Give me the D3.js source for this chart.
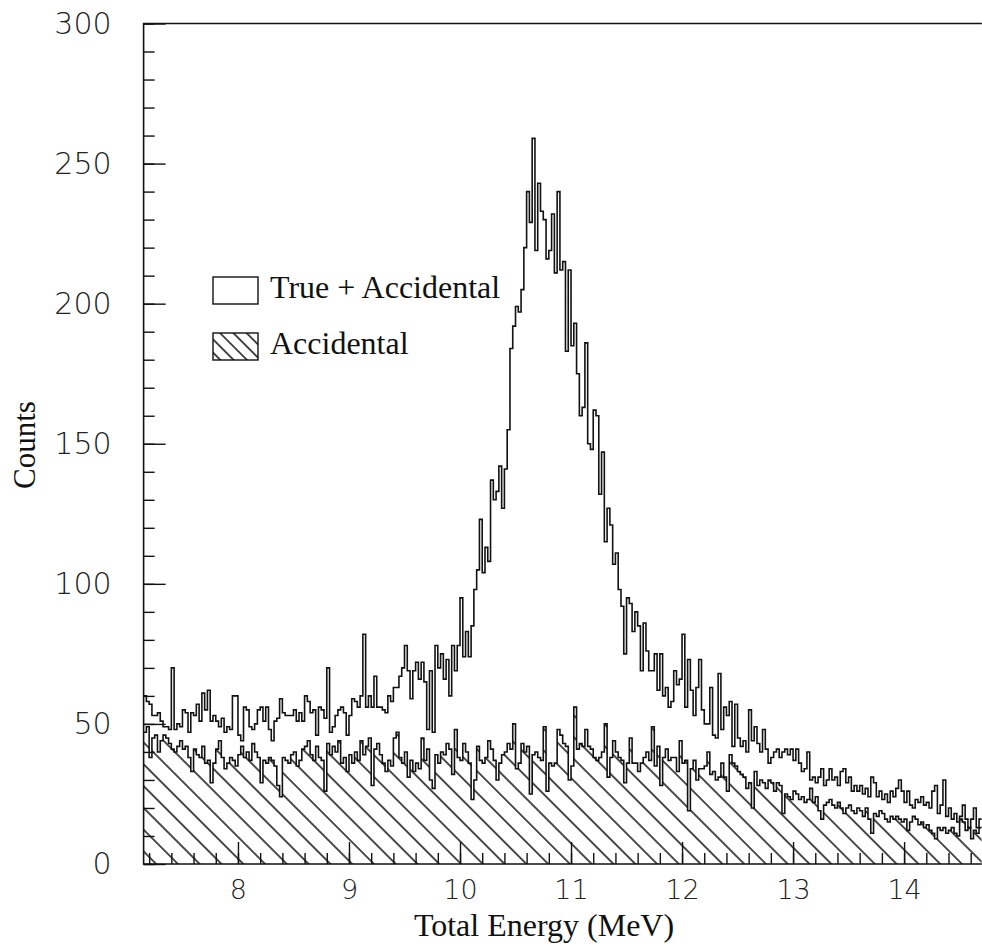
<!DOCTYPE html>
<html>
<head>
<meta charset="utf-8">
<script src="https://cdn.jsdelivr.net/npm/d3@7"></script>
<style>
  body { margin: 0; background: #fff; }
  .tick text { font-family: "DejaVu Sans", sans-serif; font-weight: 200; fill: #222; }
  .serif { font-family: "Liberation Serif", "Times New Roman", serif; fill: #111; }
</style>
</head>
<body>
<svg id="chart" width="982" height="944"></svg>
<script>
// histogram binning (MeV)
const binStart = 7.15;
const binWidth = 0.025;

const energyTicks = [8, 9, 10, 11, 12, 13, 14];
const countTicks = [0, 50, 100, 150, 200, 250, 300];

// True + Accidental, counts per bin
const trueAccidental = [
  60,58,57,53,53,54,51,49,49,48, 70,48,50,49,55,54,47,54,53,57,
  51,61,55,62,51,53,51,49,52,47, 49,48,60,60,46,44,56,55,49,48,
  50,55,56,51,56,48,44,51,52,59, 54,53,53,53,55,51,54,51,60,58,
  54,55,46,56,55,52,70,47,49,53, 55,56,54,46,53,59,58,56,60,82,
  56,60,56,67,56,56,55,54,60,58, 63,63,67,70,78,69,59,69,72,66,
  72,65,48,69,47,78,70,75,66,73, 60,78,69,78,95,74,83,74,85,98,
  105,123,104,113,108,137,130,133,142,127, 141,155,184,192,199,197,205,220,240,229,
  259,219,243,233,230,216,219,232,211,240, 212,215,183,212,185,193,175,160,163,186,
  150,148,162,160,132,147,115,127,121,107, 111,98,92,75,95,93,83,90,85,69,
  86,76,69,69,75,62,75,60,63,56, 58,69,64,66,82,56,73,62,53,63,
  73,55,50,50,63,46,45,68,48,56, 53,58,42,57,45,42,44,40,55,44,
  49,43,40,48,41,36,38,40,41,38, 40,41,39,41,37,41,36,33,34,40,
  30,31,29,31,34,28,30,34,30,31, 28,33,34,29,31,26,28,26,28,25,
  27,24,31,29,24,26,23,25,22,26, 24,27,30,26,22,26,21,20,23,22,
  24,21,22,20,26,28,18,21,30,17, 20,16,18,15,17,21,16,13,16,20,
  13,16
];

// Accidental, counts per bin
const accidental = [
  47,49,38,45,46,40,44,46,45,43, 41,40,42,44,41,42,38,33,41,39,
  38,42,36,37,29,36,41,44,38,34, 36,38,37,35,39,42,38,40,37,43,
  40,38,29,37,36,38,37,35,28,24, 38,37,36,39,40,35,37,41,42,44,
  39,37,42,38,37,26,43,39,42,40, 44,36,38,33,39,36,40,37,44,39,
  42,45,28,41,43,39,36,33,37,35, 45,47,38,36,40,31,37,33,36,34,
  45,37,41,30,27,39,36,40,39,43, 41,32,48,38,37,43,40,36,23,30,
  42,37,36,38,44,41,37,30,36,39, 40,43,41,50,34,36,43,40,42,25,
  39,40,38,37,49,26,36,35,36,48, 46,43,42,30,35,56,41,43,42,48,
  42,41,38,37,38,40,50,31,38,44, 40,38,37,29,36,45,36,36,33,36,
  38,40,37,49,35,42,28,38,41,37, 38,38,33,44,36,37,19,34,37,30,
  34,34,35,40,32,33,30,31,36,31, 26,39,36,35,33,32,31,27,29,20,
  33,28,30,29,27,30,29,26,29,28, 18,25,24,23,26,25,23,24,22,23,
  27,22,24,19,16,21,22,23,21,20, 22,20,18,20,21,19,18,20,19,17,
  20,16,11,18,17,19,18,16,15,17, 16,17,16,15,16,12,15,17,16,14,
  15,13,14,12,11,9,13,12,13,11, 12,13,11,10,16,15,12,13,9,12,
  11,13
];

const legendLabels = ["True + Accidental", "Accidental"];

const svg = d3.select("#chart");
const ink = "#111";

const nBins = trueAccidental.length;
const edges = d3.range(nBins + 1).map(i => binStart + i * binWidth);

let x = d3.scaleLinear()
    .domain([binStart, edges[nBins - 1] + binWidth])
    .range([143.6, 981.8]);

let y = d3.scaleLinear()
    .domain([0, 300])
    .range([864, 23.5]);

function steps(values) {
    let pts = values.map((v, i) => [edges[i], v]);
    pts.push([edges[values.length], values[values.length - 1]]);
    return pts;
}

let defs = svg.append("defs");

function hatch(id, gap) {
    let p = defs.append("pattern")
        .attr("id", id)
        .attr("patternUnits", "userSpaceOnUse")
        .attr("width", gap)
        .attr("height", gap)
        .attr("patternTransform", "rotate(-45)");
    p.append("line")
        .attr("x1", gap / 2).attr("x2", gap / 2)
        .attr("y1", 0).attr("y2", gap)
        .attr("stroke", ink)
        .attr("stroke-width", 1.5);
}
hatch("hatch", 15.4);
hatch("hatchSmall", 9.4);

defs.append("clipPath").attr("id", "plot")
    .append("rect")
    .attr("x", x.range()[0]).attr("y", y.range()[1])
    .attr("width", x.range()[1] - x.range()[0])
    .attr("height", y.range()[0] - y.range()[1]);

let plot = svg.append("g").attr("clip-path", "url(#plot)");

let area = d3.area()
    .curve(d3.curveStepAfter)
    .x(d => x(d[0]))
    .y0(y(0))
    .y1(d => y(d[1]));

let line = d3.line()
    .curve(d3.curveStepAfter)
    .x(d => x(d[0]))
    .y(d => y(d[1]));

// hatched accidental
plot.append("path")
    .datum(steps(accidental))
    .attr("fill", "url(#hatch)")
    .attr("d", area);

plot.append("path")
    .datum(steps(accidental))
    .attr("fill", "none")
    .attr("stroke", ink)
    .attr("stroke-width", 1.6)
    .attr("d", line);

plot.append("path")
    .datum(steps(trueAccidental))
    .attr("fill", "none")
    .attr("stroke", ink)
    .attr("stroke-width", 1.6)
    .attr("d", line);

// Y axis, ticks pointing inward
svg.append("g")
    .attr("transform", `translate(${x.range()[0]},0)`)
    .call(d3.axisLeft(y).tickValues(d3.range(0, 301, 10)).tickSizeInner(-11).tickSizeOuter(0).tickFormat(""))
    .call(g => g.select(".domain").remove());

svg.append("g")
    .attr("transform", `translate(${x.range()[0]},0)`)
    .call(d3.axisLeft(y).tickValues(countTicks).tickSizeInner(-22).tickSizeOuter(0).tickPadding(32))
    .call(g => g.select(".domain").remove())
    .call(g => g.selectAll("text").attr("font-size", 30));

// X axis, ticks pointing inward
let minorE = d3.range(36, 74).map(k => k / 5).filter(e => e > binStart);
svg.append("g")
    .attr("transform", `translate(0,${y(0)})`)
    .call(d3.axisBottom(x).tickValues(minorE).tickSizeInner(-11).tickSizeOuter(0).tickFormat(""))
    .call(g => g.select(".domain").remove());

svg.append("g")
    .attr("transform", `translate(0,${y(0)})`)
    .call(d3.axisBottom(x).tickValues(energyTicks).tickSizeInner(-22).tickSizeOuter(0).tickPadding(16))
    .call(g => g.select(".domain").remove())
    .call(g => g.selectAll("text").attr("font-size", 27));

svg.selectAll(".tick line").attr("stroke", ink).attr("stroke-width", 1.4);

// frame: left, bottom, top
svg.append("path")
    .attr("fill", "none")
    .attr("stroke", ink)
    .attr("stroke-width", 1.6)
    .attr("d", `M${x.range()[1]},${y(300)}H${x.range()[0]}V${y(0)}H${x.range()[1]}`);

// legend
let legend = svg.append("g");
legendLabels.forEach(function (label, i) {
    let top = 277 + i * 56;
    legend.append("rect")
        .attr("x", 213).attr("y", top)
        .attr("width", 45).attr("height", 27)
        .attr("fill", i === 0 ? "#fff" : "url(#hatchSmall)")
        .attr("stroke", ink)
        .attr("stroke-width", 1.4);
    legend.append("text")
        .attr("class", "serif")
        .attr("x", 270).attr("y", top + 21)
        .attr("font-size", 32)
        .text(label);
});

// axis titles
svg.append("text")
    .attr("class", "serif")
    .attr("x", 544).attr("y", 936)
    .attr("text-anchor", "middle")
    .attr("font-size", 32)
    .text("Total Energy (MeV)");

svg.append("text")
    .attr("class", "serif")
    .attr("transform", "translate(35,445) rotate(-90)")
    .attr("text-anchor", "middle")
    .attr("font-size", 31)
    .text("Counts");
</script>
</body>
</html>
